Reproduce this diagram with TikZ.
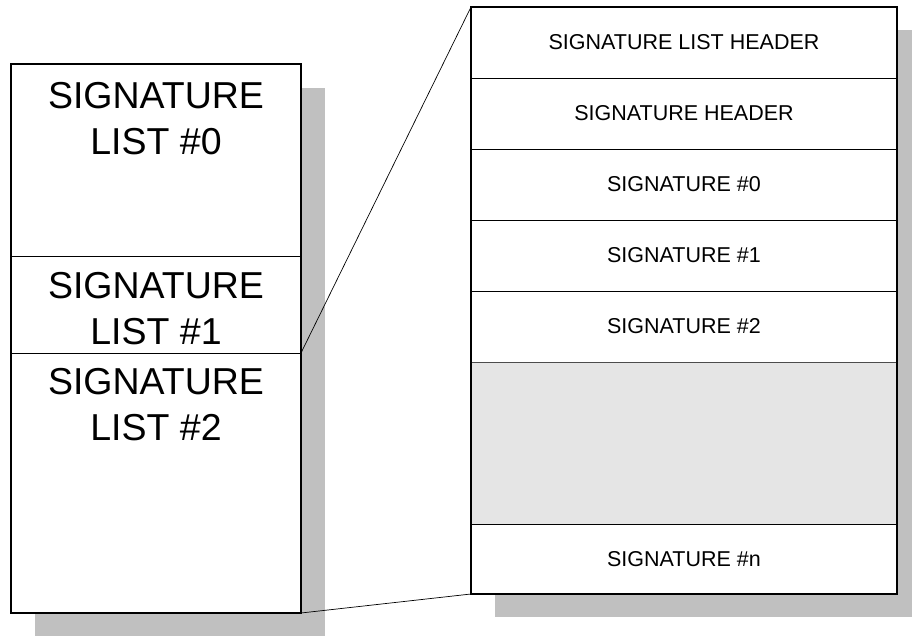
\documentclass[tikz,border=0pt]{standalone}
\usepackage{fontspec}
\setmainfont{Liberation Sans}
\usetikzlibrary{positioning}
\definecolor{shadowgray}{HTML}{C0C0C0}
\definecolor{gapfill}{HTML}{E5E5E5}
\tikzset{
  listcell/.style={draw, rectangle, minimum width=290pt, inner sep=0pt, outer sep=0pt, fill=white, line width=0.7pt},
  listlabel/.style={align=center, font=\fontsize{37.5}{46}\selectfont, anchor=north, inner sep=0pt},
  sigcell/.style={draw, rectangle, minimum width=426pt, minimum height=71pt, inner sep=0pt, outer sep=0pt, fill=white, line width=0.7pt, font=\fontsize{21.5}{24}\selectfont},
  gapcell/.style={sigcell, fill=gapfill, draw=black!70},
  frame/.style={draw, line width=1.5pt},
  link/.style={draw, line width=0.7pt}
}

\begin{document}
\begin{tikzpicture}[x=1pt,y=-1pt]
  \useasboundingbox (0,0) rectangle (912,636);
  \begin{scope}
    \clip (0,0) rectangle (912,636);
    % drop shadows
    \fill[shadowgray] (35,88) rectangle (325,640);
    \fill[shadowgray] (495,30) rectangle (921,617);
  \end{scope}

  % signature lists
  \node[listcell, minimum height=192pt, anchor=north west] (list0) at (11,64) {};
  \node[listcell, minimum height=97pt, below=0pt of list0] (list1) {};
  \node[listcell, minimum height=260pt, below=0pt of list1] (list2) {};
  \node[listlabel, below=18pt of list0.north] {SIGNATURE\\LIST \#0};
  \node[listlabel, below=16pt of list1.north] {SIGNATURE\\LIST \#1};
  \node[listlabel, below=15pt of list2.north] {SIGNATURE\\LIST \#2};
  \draw[frame] (list0.north west) rectangle (list2.south east);

  % one list, opened up
  \node[sigcell, anchor=north west] (lhead) at (471,7) {SIGNATURE LIST HEADER};
  \node[sigcell, below=0pt of lhead] (shead) {SIGNATURE HEADER};
  \node[sigcell, below=0pt of shead] (sig0) {SIGNATURE \#0};
  \node[sigcell, below=0pt of sig0] (sig1) {SIGNATURE \#1};
  \node[sigcell, below=0pt of sig1] (sig2) {SIGNATURE \#2};
  \node[gapcell, minimum height=162pt, below=0pt of sig2] (gap) {};
  \node[sigcell, minimum height=70pt, below=0pt of gap] (sign) {SIGNATURE \#n};
  \draw[frame] (lhead.north west) rectangle (sign.south east);

  \draw[link] (list1.south east) -- (lhead.north west);
  \draw[link] (list2.south east) -- (sign.south west);
\end{tikzpicture}
\end{document}
